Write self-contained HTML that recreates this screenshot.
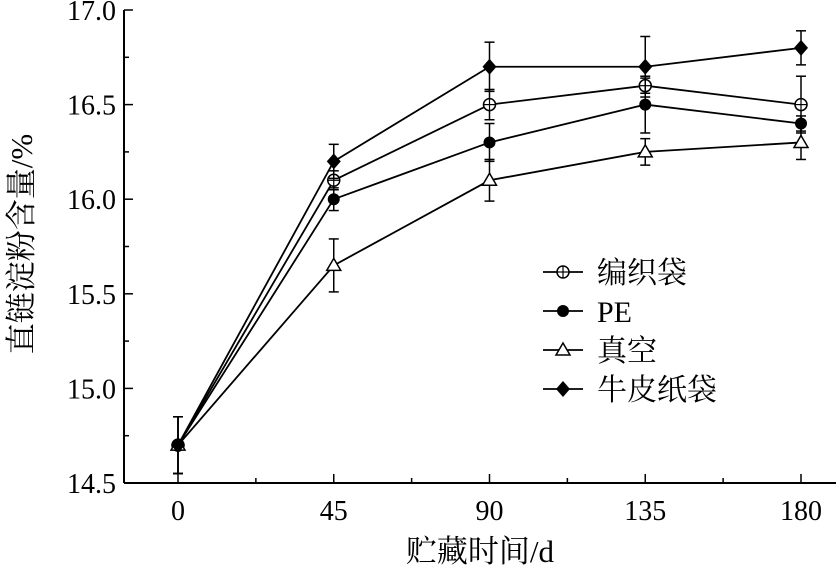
<!DOCTYPE html>
<html><head><meta charset="utf-8"><style>
body{margin:0;background:#fff}
text{font-family:"Liberation Serif","Noto Serif CJK SC",serif;fill:#000}
</style></head><body>
<svg id="c" width="838" height="566" xmlns="http://www.w3.org/2000/svg"></svg>
<script>
const days=[0,45,90,135,180];
const xTicks=[0,45,90,135,180];
const yTicks=[14.5,15.0,15.5,16.0,16.5,17.0];
const names=["编织袋","PE","真空","牛皮纸袋"];
const bag=[14.7,16.1,16.5,16.6,16.5];
const bagErr=[0.15,0.05,0.08,0.04,0.15];
const pe=[14.7,16.0,16.3,16.5,16.4];
const peErr=[0.15,0.06,0.1,0.15,0.04];
const vac=[14.7,15.65,16.1,16.25,16.3];
const vacErr=[0.15,0.14,0.11,0.07,0.09];
const kraft=[14.7,16.2,16.7,16.7,16.8];
const kraftErr=[0.15,0.09,0.13,0.16,0.09];
const series=[bag,pe,vac,kraft],errs=[bagErr,peErr,vacErr,kraftErr],mk=["ocircle","circle","tri","diamond"];
const NS="http://www.w3.org/2000/svg",svg=document.getElementById('c');
const X0=124,X1=836,Y0=483,Y1=10;
const px=d=>178+(d/180)*(801-178);
const py=v=>Y0-(v-14.5)/2.5*(Y0-Y1);
function el(t,a,p){const e=document.createElementNS(NS,t);for(const k in a)e.setAttribute(k,a[k]);(p||svg).appendChild(e);return e;}
let e;
e=el('line',{x1:X0,y1:Y0,x2:X1,y2:Y0,stroke:'#000','stroke-width':2});


e=el('line',{x1:X0,y1:Y0,x2:X0,y2:Y1,stroke:'#000','stroke-width':2});


xTicks.forEach(d=>{el('line',{x1:px(d),y1:Y0,x2:px(d),y2:Y0-9,stroke:'#000','stroke-width':1.5});
 e=el('text',{x:px(d),y:Y0+37,'text-anchor':'middle','font-size':28});e.textContent=d;
 
 
 if(d<180)el('line',{x1:px(d+22.5),y1:Y0,x2:px(d+22.5),y2:Y0-5,stroke:'#000','stroke-width':1.5});});
yTicks.forEach(v=>{el('line',{x1:X0,y1:py(v),x2:X0+9,y2:py(v),stroke:'#000','stroke-width':1.5});
 e=el('text',{x:X0-8,y:py(v)+10,'text-anchor':'end','font-size':28});e.textContent=v.toFixed(1);
 
 
 if(v<17)el('line',{x1:X0,y1:py(v+0.25),x2:X0+5,y2:py(v+0.25),stroke:'#000','stroke-width':1.5});});
e=el('text',{x:480,y:562,'text-anchor':'middle','font-size':31});e.textContent='贮藏时间/d';


e=el('text',{x:0,y:0,'text-anchor':'middle','font-size':31,transform:'translate(32,244) rotate(-90)'});e.textContent='直链淀粉含量/%';


function marker(type,x,y,g){
 if(type=='ocircle'){el('circle',{cx:x,cy:y,r:6,fill:'#fff',stroke:'#000','stroke-width':1.5},g);el('line',{x1:x-6,y1:y,x2:x+6,y2:y,stroke:'#000','stroke-width':1.2},g);el('line',{x1:x,y1:y-6,x2:x,y2:y+6,stroke:'#000','stroke-width':1.2},g);}
 else if(type=='circle')el('circle',{cx:x,cy:y,r:6,fill:'#000'},g);
 else if(type=='tri')el('polygon',{points:`${x},${y-7} ${x-7},${y+5} ${x+7},${y+5}`,fill:'#fff',stroke:'#000','stroke-width':1.5},g);
 else el('polygon',{points:`${x},${y-8} ${x+7},${y} ${x},${y+8} ${x-7},${y}`,fill:'#000'},g);
}
series.forEach((s,i)=>{
 const g=el('g',{});
 
 
 el('polyline',{points:s.map((v,j)=>px(days[j])+','+py(v)).join(' '),fill:'none',stroke:'#000','stroke-width':1.8},g);
 s.forEach((v,j)=>{const x=px(days[j]),a=py(v+errs[i][j]),b=py(v-errs[i][j]);
  el('line',{x1:x,y1:a,x2:x,y2:b,stroke:'#000','stroke-width':1.5},g);
  el('line',{x1:x-5,y1:a,x2:x+5,y2:a,stroke:'#000','stroke-width':1.5},g);
  el('line',{x1:x-5,y1:b,x2:x+5,y2:b,stroke:'#000','stroke-width':1.5},g);});
 s.forEach((v,j)=>marker(mk[i],px(days[j]),py(v),g));
});
names.forEach((n,i)=>{const y=272+i*39;const g=el('g',{});
 
 
 el('line',{x1:543,y1:y,x2:583,y2:y,stroke:'#000','stroke-width':1.8},g);marker(mk[i],563,y,g);
 const t=el('text',{x:597,y:y+11,'font-size':30},g);t.textContent=n;});
</script>
</body></html>
